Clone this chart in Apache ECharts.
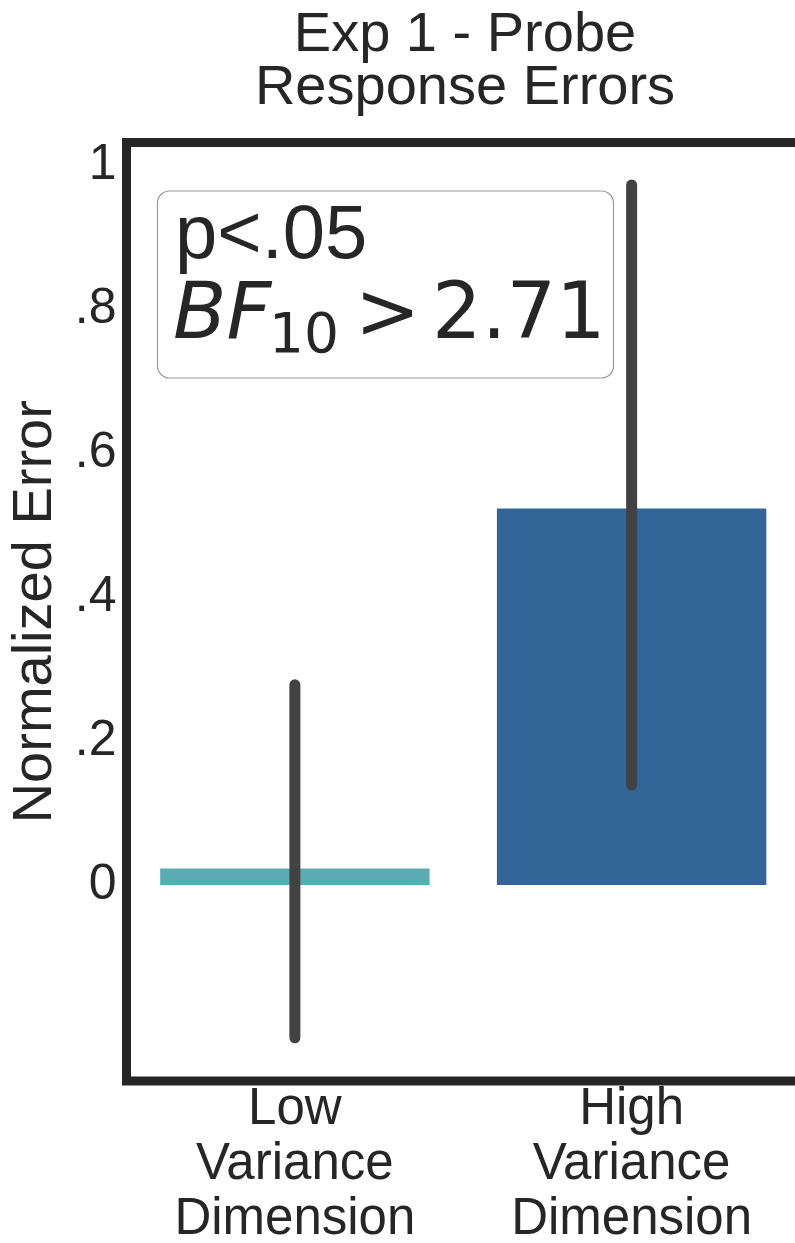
<!DOCTYPE html>
<html><head><meta charset="utf-8">
<script src="https://cdn.jsdelivr.net/npm/echarts@6/dist/echarts.min.js"></script>
<style>html,body{margin:0;padding:0;background:#fff;overflow:hidden}#c{width:805px;height:1243px}</style>
</head><body><div id="c"></div>
<script>
const titleLines = ['Exp 1 - Probe', 'Response Errors'];
const categories = ['Low\nVariance\nDimension', 'High\nVariance\nDimension'];
const meanValues = [0.023, 0.523];
const ciLow = [-0.212, 0.139];
const ciHigh = [0.278, 0.972];
const barColors = ['#5BACB2', '#346598'];
const yTickValues = [0, 0.2, 0.4, 0.6, 0.8, 1];
const yTickLabels = ['0', '.2', '.4', '.6', '.8', '1'];
const yName = 'Normalized Error';
const statText = { p: 'p<.05', bf: 'BF', sub: '10', rel: '>', val: '2.71' };

const INK = '#262626';
const SANS = '"Liberation Sans", Arial, sans-serif';
const MATH = '"DejaVu Sans", sans-serif';

const chart = echarts.init(document.getElementById('c'), null, { renderer: 'canvas' });
chart.setOption({
  animation: false,
  backgroundColor: '#ffffff',
  title: {
    text: titleLines.join('\n'),
    left: 465,
    top: 9,
    padding: 0,
    textAlign: 'center',
    textStyle: { fontFamily: SANS, fontSize: 56, fontWeight: 'normal', color: INK, lineHeight: 53 }
  },
  grid: {
    left: 126.5, right: 5, top: 142.5, bottom: 162,
    outerBoundsMode: 'none',
    containLabel: false,
    show: true, borderColor: INK, borderWidth: 9, backgroundColor: 'transparent'
  },
  xAxis: {
    type: 'category',
    data: categories,
    axisLine: { show: false },
    axisTick: { show: false },
    splitLine: { show: false },
    axisLabel: { margin: 1, fontFamily: SANS, fontSize: 51, lineHeight: 55, color: INK, interval: 0 }
  },
  yAxis: {
    type: 'value',
    min: -0.272,
    max: 1.031,
    name: yName,
    nameLocation: 'middle',
    nameGap: 52,
    nameTextStyle: { fontFamily: SANS, fontSize: 56, color: INK },
    axisLine: { show: false },
    axisTick: { show: false },
    splitLine: { show: false },
    axisLabel: {
      customValues: yTickValues,
      margin: 10,
      fontFamily: SANS, fontSize: 50, color: INK,
      formatter: function (v) {
        const i = yTickValues.findIndex(t => Math.abs(t - v) < 1e-9);
        return i >= 0 ? yTickLabels[i] : '';
      }
    }
  },
  series: [
    {
      type: 'bar',
      barWidth: '80%',
      data: meanValues.map((v, i) => ({ value: v, itemStyle: { color: barColors[i] } })),
      z: 2
    },
    {
      type: 'custom',
      data: categories.map((c, i) => [i, ciLow[i], ciHigh[i]]),
      encode: { x: 0, y: [1, 2] },
      z: 5,
      renderItem: function (params, api) {
        const p1 = api.coord([api.value(0), api.value(1)]);
        const p2 = api.coord([api.value(0), api.value(2)]);
        return {
          type: 'line',
          shape: { x1: p1[0], y1: p1[1], x2: p2[0], y2: p2[1] },
          style: { stroke: '#424242', lineWidth: 11, lineCap: 'round' }
        };
      }
    }
  ],
  graphic: [
    {
      type: 'rect', z: 20,
      shape: { x: 157.5, y: 191, width: 456, height: 187, r: 12 },
      style: { fill: 'rgba(255,255,255,0.8)', stroke: '#9a9a9a', lineWidth: 1.2 }
    },
    {
      type: 'text', z: 21,
      style: { text: statText.p, x: 175, y: 236.7, align: 'left', verticalAlign: 'middle',
        font: '76px ' + SANS, fill: INK }
    },
    {
      type: 'text', z: 21,
      style: { text: statText.bf, x: 173, y: 318, align: 'left', verticalAlign: 'middle',
        font: 'italic 78px ' + MATH, fill: INK }
    },
    {
      type: 'text', z: 21,
      style: { text: statText.sub, x: 269, y: 337.7, align: 'left', verticalAlign: 'middle',
        font: '55px ' + MATH, fill: INK }
    },
    {
      type: 'text', z: 21,
      style: { text: statText.rel, x: 355, y: 318, align: 'left', verticalAlign: 'middle',
        font: '78px ' + MATH, fill: INK }
    },
    {
      type: 'text', z: 21,
      style: { text: statText.val, x: 432, y: 318, align: 'left', verticalAlign: 'middle',
        font: '78px ' + MATH, fill: INK }
    }
  ]
});
</script>
</body></html>
